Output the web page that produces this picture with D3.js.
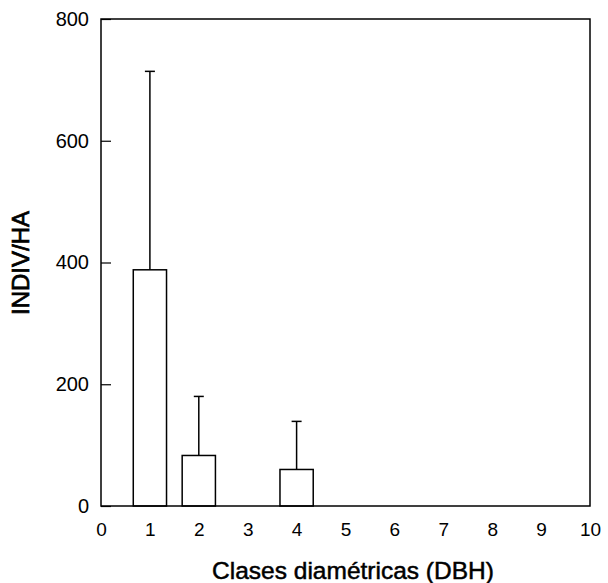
<!DOCTYPE html>
<html>
<head>
<meta charset="utf-8">
<script src="https://cdn.jsdelivr.net/npm/d3@7"></script>
<style>
  body { margin: 0; background: #fff; }
  text { font-family: "Liberation Sans", Arial, sans-serif; fill: #000; }
</style>
</head>
<body>
<div id="chart"></div>
<script>
// diameter classes with mean density and its standard deviation
const classes = [1, 2, 4];
const means = [388, 83, 60];
const sds = [326, 97, 79];
const xTicks = [0, 1, 2, 3, 4, 5, 6, 7, 8, 9, 10];
const yTicks = [0, 200, 400, 600, 800];

const W = 608, H = 583;
const svg = d3.select("#chart").append("svg")
    .attr("width", W)
    .attr("height", H);

const x = d3.scaleLinear().domain([0, 10]).range([101, 590]);
const y = d3.scaleLinear().domain([0, 800]).range([506, 19]);
const halfW = 0.34;

const data = classes.map((c, i) => ({ c: c, m: means[i], sd: sds[i] }));

// error bars (upper only)
const err = svg.append("g").attr("stroke", "#000").attr("stroke-width", 1.5);
err.selectAll("line.v")
    .data(data)
    .enter().append("line")
    .attr("class", "v")
    .attr("x1", d => x(d.c)).attr("x2", d => x(d.c))
    .attr("y1", d => y(d.m)).attr("y2", d => y(d.m + d.sd));
err.selectAll("line.cap")
    .data(data)
    .enter().append("line")
    .attr("class", "cap")
    .attr("x1", d => x(d.c) - 5).attr("x2", d => x(d.c) + 5)
    .attr("y1", d => y(d.m + d.sd)).attr("y2", d => y(d.m + d.sd));

// bars
svg.selectAll("rect.bar")
    .data(data)
    .enter().append("rect")
    .attr("class", "bar")
    .attr("x", d => x(d.c - halfW))
    .attr("width", d => x(d.c + halfW) - x(d.c - halfW))
    .attr("y", d => y(d.m))
    .attr("height", d => y(0) - y(d.m))
    .attr("fill", "#fff")
    .attr("stroke", "#000")
    .attr("stroke-width", 1.5);

// frame
svg.append("rect")
    .attr("x", x(0)).attr("y", y(800))
    .attr("width", x(10) - x(0)).attr("height", y(0) - y(800))
    .attr("fill", "none")
    .attr("stroke", "#000")
    .attr("stroke-width", 1.5);

// axes
const yAxis = svg.append("g")
    .attr("transform", `translate(${x(0)},0)`)
    .call(d3.axisLeft(y).tickValues(yTicks).tickSizeInner(-10).tickSizeOuter(0).tickPadding(12));
yAxis.select(".domain").remove();
yAxis.selectAll("line").attr("stroke-width", 1.2);
yAxis.selectAll("text").style("font-size", "20px").style("font-family", "Liberation Sans, Arial, sans-serif");

const xAxis = svg.append("g")
    .attr("transform", `translate(0,${y(0)})`)
    .call(d3.axisBottom(x).tickValues(xTicks).tickSize(0).tickPadding(17));
xAxis.select(".domain").remove();
xAxis.selectAll("text").style("font-size", "19px").style("font-family", "Liberation Sans, Arial, sans-serif");

// axis titles
svg.append("text")
    .attr("x", 353)
    .attr("y", 579)
    .attr("text-anchor", "middle")
    .style("font-size", "24.5px")
    .style("stroke", "#000")
    .style("stroke-width", 0.5)
    .text("Clases diamétricas (DBH)");

svg.append("text")
    .attr("transform", "translate(29,263) rotate(-90)")
    .attr("text-anchor", "middle")
    .style("font-size", "24px")
    .style("stroke", "#000")
    .style("stroke-width", 0.7)
    .text("INDIV/HA");
</script>
</body>
</html>
